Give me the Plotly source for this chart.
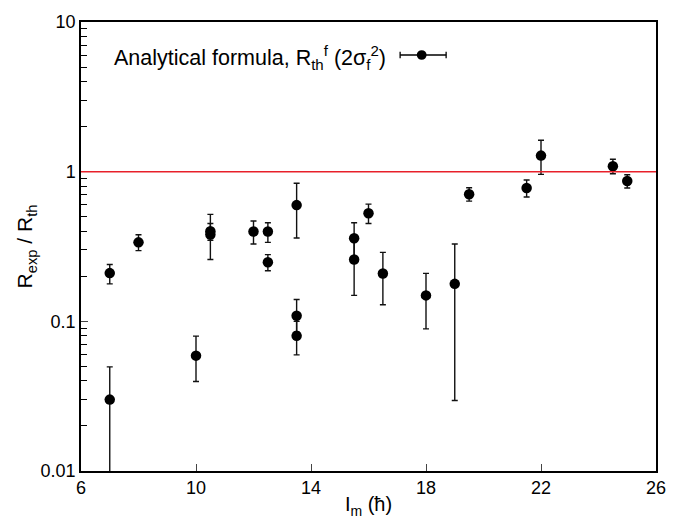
import plotly.graph_objects as go

# Data: I_m (hbar), R_exp/R_th, upper and lower error bar ends
spin = [7, 7, 8, 10, 10.5, 10.5, 12, 12.5, 12.5, 13.5, 13.5, 13.5,
        15.5, 15.5, 16, 16.5, 18, 19, 19.5, 21.5, 22, 24.5, 25]
ratio = [0.21, 0.030, 0.337, 0.059, 0.38, 0.40, 0.398, 0.398, 0.248, 0.598, 0.109, 0.080,
         0.359, 0.259, 0.527, 0.209, 0.149, 0.178, 0.706, 0.777, 1.28, 1.086, 0.867]
err_hi = [0.24, 0.0496, 0.379, 0.0796, 0.518, 0.45, 0.468, 0.456, 0.279, 0.837, 0.14, 0.10,
          0.456, 0.35, 0.607, 0.289, 0.209, 0.329, 0.78, 0.88, 1.62, 1.21, 0.954]
err_lo = [0.178, 0.004, 0.297, 0.0396, 0.259, 0.348, 0.329, 0.337, 0.218, 0.36, 0.085, 0.0597,
          0.26, 0.149, 0.45, 0.129, 0.089, 0.0296, 0.636, 0.678, 0.959, 0.969, 0.777]

x_ticks = [6, 10, 14, 18, 22, 26]
y_ticks = [0.01, 0.1, 1, 10]
y_ticktext = ["0.01", "0.1", "1", "10"]
reference_level = 1

plus = [h - v for h, v in zip(err_hi, ratio)]
minus = [v - l for v, l in zip(ratio, err_lo)]

FONT = "Liberation Sans, Arial, Helvetica, sans-serif"

fig = go.Figure()
fig.add_trace(go.Scatter(
    x=spin, y=ratio, mode="markers",
    marker=dict(color="black", size=10.5),
    error_y=dict(type="data", symmetric=False, array=plus, arrayminus=minus,
                 color="#111111", thickness=1.4, width=3),
    showlegend=False, cliponaxis=True,
))

fig.add_shape(type="line", xref="paper", x0=0, x1=1, yref="y",
              y0=reference_level, y1=reference_level,
              line=dict(color="#e8202a", width=1.5))

# Legend (text followed by symbol)
fig.add_annotation(xref="paper", yref="paper", x=0.054, y=0.922,
                   xanchor="left", yanchor="middle", showarrow=False,
                   text="Analytical formula, R<sub>th</sub><sup>f</sup> (2σ<sub>f</sub><sup>2</sup>)",
                   font=dict(family=FONT, size=21.5, color="black"))
lx0, lx1, lxc, ly = 0.555, 0.635, 0.5925, 0.9265
fig.add_shape(type="line", xref="paper", yref="paper", x0=lx0, x1=lx1, y0=ly, y1=ly,
              line=dict(color="black", width=1.3))
for xx in (lx0, lx1):
    fig.add_shape(type="line", xref="paper", yref="paper", x0=xx, x1=xx,
                  y0=ly - 0.007, y1=ly + 0.007, line=dict(color="black", width=1.3))
fig.add_shape(type="circle", xref="paper", yref="paper",
              x0=lxc - 0.0085, x1=lxc + 0.0085, y0=ly - 0.0107, y1=ly + 0.0107,
              fillcolor="black", line=dict(color="black", width=0))

fig.update_layout(
    width=691, height=524,
    margin=dict(l=81, r=35, t=13, b=52),
    paper_bgcolor="white", plot_bgcolor="white",
    font=dict(family=FONT, size=18, color="black"),
    showlegend=False,
)
fig.update_xaxes(
    range=[6, 26], tickvals=x_ticks, ticks="inside", ticklen=7, tickwidth=1,
    showline=True, linecolor="black", linewidth=1.5, mirror=True,
    showgrid=False, zeroline=False,
    tickfont=dict(size=18),
    title=dict(text="I<sub>m</sub> (ħ)", font=dict(size=20), standoff=0),
)
fig.update_yaxes(
    type="log", range=[-2, 1], tickvals=y_ticks, ticktext=y_ticktext,
    ticks="inside", ticklen=7, tickwidth=1,
    minor=dict(ticks="inside", ticklen=6, dtick="D1", showgrid=False, tickcolor="black"),
    showline=True, linecolor="black", linewidth=1.5, mirror=True,
    showgrid=False, zeroline=False,
    tickfont=dict(size=18),
    title=dict(text="R<sub>exp</sub> / R<sub>th</sub>", font=dict(size=21), standoff=2),
)

fig.write_html("out.html", config={"displayModeBar": False},
               post_script="document.body.style.margin='0px';document.body.style.overflow='hidden';")
